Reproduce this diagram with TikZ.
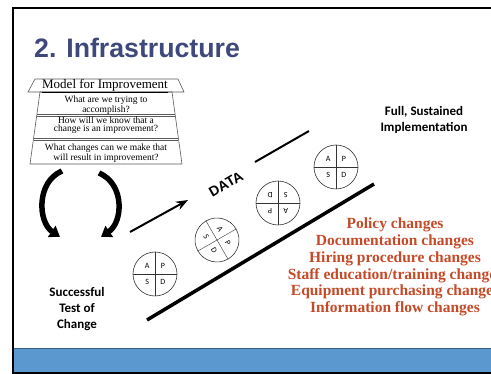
\documentclass[tikz,border=0pt]{standalone}
\usepackage{fontspec}
\setmainfont{Liberation Serif}
\newfontfamily\headfont{Liberation Sans}
\newfontfamily\labelfont{Carlito}
\usetikzlibrary{arrows.meta, calc}
\definecolor{titleblue}{RGB}{62,72,122}
\definecolor{changered}{RGB}{196,74,40}
\definecolor{bandblue}{RGB}{92,152,208}
\tikzset{>=Stealth,
  every node/.style={inner sep=0pt},
  pdsa/.style={circle, draw=black!80, semithick, minimum size=44pt},
  quad/.style={font=\labelfont\fontsize{8}{8}\selectfont},
  stage/.style={font=\labelfont\bfseries\fontsize{13}{16}\selectfont, align=center},
  change/.style={font=\bfseries\fontsize{15.5}{16.7}\selectfont, text=changered, align=center},
  question/.style={font=\fontsize{9.5}{8.5}\selectfont, align=center},
  loop arrow/.style={line width=5.5pt, -{Triangle[width=13pt,length=10pt]}},
}

\begin{document}
\begin{tikzpicture}[x=1pt, y=-1pt]
	\useasboundingbox (0,0) rectangle (491,374);
	% slide frame and footer band
	\fill[bandblue] (13,348) rectangle (491,372);
	\draw[bandblue!60!black] (13,348) -- (491,348);
	\draw[line width=2pt] (13,8) rectangle (500,373);
	\node[anchor=west, font=\headfont\bfseries\fontsize{26.7}{30}\selectfont, text=titleblue] (title) at (34,48) {2. Infrastructure};

	% model for improvement
	\draw[semithick, gray!70!black] (35,79) -- (178,79) -- (184,92) -- (28,92) -- cycle;
	\draw[semithick, gray!70!black] (40,92) -- (172,92) -- (182,164) -- (30,164) -- cycle;
	\draw[gray!70!black] (37,114) -- (175,114) (37,116) -- (175,116);
	\draw[gray!70!black] (34,138) -- (178,138) (34,140) -- (178,140);
	\node[question, font=\fontsize{13}{13}\selectfont] (model) at (105,86) {\underline{Model for Improvement}};
	\node[question] (aim) at (106,105) {What are we trying to\\accomplish?};
	\node[question] (measure) at (106,125) {How will we know that a\\change is an improvement?};
	\node[question] (idea) at (106,153) {What changes can we make that\\will result in improvement?};

	% cycle arrows
	\draw[loop arrow] (62,171) .. controls (36,182) and (38,222) .. (60,237);
	\draw[loop arrow] (99,173) .. controls (125,184) and (123,222) .. (101,237);

	% ramp and data arrow
	\draw[line width=3.5pt] (147,320) -- (374,184);
	\coordinate (d1) at (130,232);
	\coordinate (d2) at (188,200);
	\coordinate (d3) at (255,162);
	\coordinate (d4) at (309,131);
	\draw[line width=2pt, ->] (d1) -- (d2);
	\draw[line width=2pt] (d3) -- (d4);
	\node[rotate=30, font=\headfont\bfseries\fontsize{14}{14}\selectfont] (data) at (226,184) {DATA};

	% PDSA cycles
	\foreach \cx/\cy/\rot [count=\i] in {155/274/0, 217/240/-60, 278/203/180, 336/167/0} {
		\node[pdsa, rotate=\rot] (c\i) at (\cx,\cy) {};
		\draw[black!80] (c\i.north) -- (c\i.south) (c\i.west) -- (c\i.east);
		\node[quad, rotate=\rot] at ($(c\i.center)!0.5!(c\i.north west)$) {A};
		\node[quad, rotate=\rot] at ($(c\i.center)!0.5!(c\i.north east)$) {P};
		\node[quad, rotate=\rot] at ($(c\i.center)!0.5!(c\i.south west)$) {S};
		\node[quad, rotate=\rot] at ($(c\i.center)!0.5!(c\i.south east)$) {D};
	}

	\node[stage] (full) at (424,120) {Full, Sustained\\Implementation};
	\node[stage] (test) at (77,309) {Successful\\Test of\\Change};
	\node[change] (changes) at (395,267) {Policy changes\\Documentation changes\\Hiring procedure changes\\Staff education/training changes\\Equipment purchasing changes\\Information flow changes};
\end{tikzpicture}
\end{document}
